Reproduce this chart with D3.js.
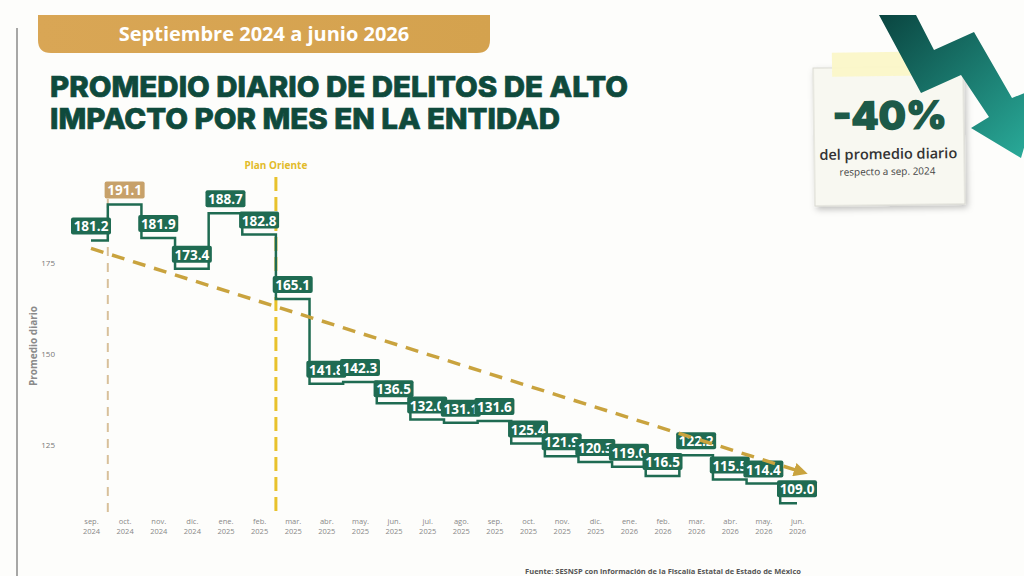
<!DOCTYPE html>
<html>
<head>
<meta charset="utf-8">
<script src="https://cdn.jsdelivr.net/npm/d3@7"></script>
<style>
  html, body { margin: 0; padding: 0; background: #fdfdfb; }
  svg { display: block; }
</style>
</head>
<body>
<svg id="chart"></svg>
<script>
// months shown on the x axis (two-line labels)
var months = ["sep.", "oct.", "nov.", "dic.", "ene.", "feb.", "mar.", "abr.", "may.", "jun.", "jul.", "ago.",
              "sep.", "oct.", "nov.", "dic.", "ene.", "feb.", "mar.", "abr.", "may.", "jun."];
var years = ["2024", "2024", "2024", "2024", "2025", "2025", "2025", "2025", "2025", "2025", "2025", "2025",
             "2025", "2025", "2025", "2025", "2026", "2026", "2026", "2026", "2026", "2026"];

// promedio diario de delitos de alto impacto
var values = [181.2, 191.1, 181.9, 173.4, 188.7, 182.8, 165.1, 141.8, 142.3, 136.5, 132.0, 131.1,
              131.6, 125.4, 121.9, 120.3, 119.0, 116.5, 122.2, 115.5, 114.4, 109.0];

// trend line end points (sep 2024 -> jun 2026)
var trendValues = [179.0, 118.0];

var yTicks = [125, 150, 175];

var width = 1024,
  height = 576;

var svg = d3.select("#chart")
  .attr("width", width)
  .attr("height", height);

var defs = svg.append("defs");

var grad = defs.append("linearGradient")
  .attr("id", "arrowGrad")
  .attr("x1", "0").attr("y1", "0")
  .attr("x2", "1").attr("y2", "1");
grad.append("stop").attr("offset", "0").attr("stop-color", "#0a4540");
grad.append("stop").attr("offset", "1").attr("stop-color", "#2bb09e");

var hdrGrad = defs.append("linearGradient")
  .attr("id", "hdrGrad")
  .attr("x1", "0").attr("y1", "0")
  .attr("x2", "1").attr("y2", "0");
hdrGrad.append("stop").attr("offset", "0").attr("stop-color", "#d9a655");
hdrGrad.append("stop").attr("offset", "1").attr("stop-color", "#d4a24e");

defs.append("marker")
  .attr("id", "trendHead")
  .attr("viewBox", "0 0 10 10")
  .attr("refX", "2")
  .attr("refY", "5")
  .attr("markerWidth", "4")
  .attr("markerHeight", "4")
  .attr("markerUnits", "strokeWidth")
  .attr("orient", "auto")
  .append("path")
  .attr("d", "M0,0 L10,5 L0,10 z")
  .attr("fill", "#c9a33e");

var shadow = defs.append("filter")
  .attr("id", "shadow")
  .attr("x", "-20%").attr("y", "-20%")
  .attr("width", "140%").attr("height", "140%");
shadow.append("feDropShadow")
  .attr("dx", "2").attr("dy", "3")
  .attr("stdDeviation", "3")
  .attr("flood-color", "#000")
  .attr("flood-opacity", "0.25");

// page border on the left
svg.append("path")
  .attr("d", "M17,28 L17,576")
  .attr("stroke", "#8a8a8a")
  .attr("stroke-width", "1.5");

// header band
svg.append("path")
  .attr("d", "M38,15 L490,15 L490,40 Q490,53 477,53 L51,53 Q38,53 38,40 Z")
  .attr("fill", "url(#hdrGrad)");
svg.append("text")
  .attr("x", 264)
  .attr("y", 41)
  .attr("text-anchor", "middle")
  .attr("font-family", "'Open Sans', 'Noto Sans', sans-serif")
  .attr("font-weight", "700")
  .attr("font-size", "20px")
  .attr("fill", "#fff")
  .text("Septiembre 2024 a junio 2026");

// title
var title = svg.append("g")
  .attr("font-family", "Inter, 'Noto Sans', sans-serif")
  .attr("font-weight", "800")
  .attr("font-size", "29px")
  .attr("fill", "#0f4a3c")
  .attr("stroke", "#0f4a3c")
  .attr("stroke-width", 0.7);
title.append("text")
  .attr("x", 50).attr("y", 97)
  .attr("textLength", 578)
  .attr("lengthAdjust", "spacingAndGlyphs")
  .text("PROMEDIO DIARIO DE DELITOS DE ALTO");
title.append("text")
  .attr("x", 50).attr("y", 129)
  .attr("textLength", 510)
  .attr("lengthAdjust", "spacingAndGlyphs")
  .text("IMPACTO POR MES EN LA ENTIDAD");

// scales
var x = d3.scalePoint()
  .domain(d3.range(values.length))
  .range([91, 797]);

var y = d3.scaleLinear()
  .domain([125, 175])
  .range([445, 263]);

var step = x.step();

// y axis
var yAxis = svg.append("g")
  .attr("transform", "translate(55,0)")
  .call(d3.axisLeft(y).tickValues(yTicks).tickSize(0).tickPadding(0));
yAxis.select(".domain").remove();
yAxis.selectAll("text")
  .attr("font-family", "'Open Sans', sans-serif")
  .attr("font-size", "8px")
  .attr("fill", "#777");

svg.append("text")
  .attr("transform", "translate(37,346) rotate(-90)")
  .attr("text-anchor", "middle")
  .attr("font-family", "'Open Sans', sans-serif")
  .attr("font-weight", "700")
  .attr("font-size", "10px")
  .attr("fill", "#8a8a8a")
  .text("Promedio diario");

// x axis labels
var xAxis = svg.append("g")
  .attr("transform", "translate(0,516)")
  .call(d3.axisBottom(x).tickSize(0).tickFormat(function() { return ""; }));
xAxis.select(".domain").remove();
xAxis.selectAll(".tick text").each(function(d) {
  var t = d3.select(this)
    .attr("font-family", "'Open Sans', sans-serif")
    .attr("font-size", "7.5px")
    .attr("fill", "#888")
    .attr("y", 8);
  t.append("tspan").attr("x", 0).attr("dy", 0).text(months[d]);
  t.append("tspan").attr("x", 0).attr("dy", 10).text(years[d]);
});

// reference lines: start of period and Plan Oriente
var xStart = x(0) + step / 2;
var xPlan = x(5) + step / 2;

svg.append("line")
  .attr("x1", xStart).attr("x2", xStart)
  .attr("y1", 183).attr("y2", 515)
  .attr("stroke", "#d8c09a")
  .attr("stroke-width", 2)
  .attr("stroke-dasharray", "9,7");

svg.append("line")
  .attr("x1", xPlan).attr("x2", xPlan)
  .attr("y1", 177).attr("y2", 515)
  .attr("stroke", "#e8c22c")
  .attr("stroke-width", 3)
  .attr("stroke-dasharray", "14,6");

svg.append("text")
  .attr("x", xPlan)
  .attr("y", 169)
  .attr("text-anchor", "middle")
  .attr("font-family", "'Open Sans', sans-serif")
  .attr("font-weight", "700")
  .attr("font-size", "10px")
  .attr("fill", "#e2bb2a")
  .text("Plan Oriente");

// step line
var line = d3.line()
  .x(function(d, i) { return x(i); })
  .y(function(d) { return y(d); })
  .curve(d3.curveStep);

svg.append("path")
  .datum(values)
  .attr("d", line)
  .attr("fill", "none")
  .attr("stroke", "#1f6b52")
  .attr("stroke-width", 2.5);

// value labels
var labels = svg.selectAll(".lbl")
  .data(values)
  .enter().append("g")
  .attr("class", "lbl")
  .attr("transform", function(d, i) { return "translate(" + x(i) + "," + (y(d) - 6) + ")"; });

labels.append("rect")
  .attr("x", -20)
  .attr("y", -17)
  .attr("width", 40)
  .attr("height", 17)
  .attr("rx", 2)
  .attr("fill", function(d, i) { return i === 1 ? "#c7a16a" : "#1f6b52"; });

labels.append("text")
  .attr("y", -3)
  .attr("text-anchor", "middle")
  .attr("font-family", "'Open Sans', 'Noto Sans', sans-serif")
  .attr("font-weight", "700")
  .attr("font-size", "13.5px")
  .attr("fill", "#fff")
  .text(function(d) { return d.toFixed(1); });

// trend line
svg.append("line")
  .attr("x1", x(0)).attr("y1", y(trendValues[0]))
  .attr("x2", x(values.length - 1)).attr("y2", y(trendValues[1]))
  .attr("stroke", "#c9a33e")
  .attr("stroke-width", 3.5)
  .attr("stroke-dasharray", "13,9")
  .attr("marker-end", "url(#trendHead)");

// note card top right
var card = svg.append("g")
  .attr("transform", "rotate(-0.8, 890, 135)");
card.append("rect")
  .attr("x", 814).attr("y", 67)
  .attr("width", 150).attr("height", 138)
  .attr("fill", "#f8f8f1")
  .attr("stroke", "#d8d8d0")
  .attr("stroke-width", 1)
  .attr("filter", "url(#shadow)");
card.append("rect")
  .attr("x", 833).attr("y", 52)
  .attr("width", 92).attr("height", 24)
  .attr("fill", "#fbf7c8")
  .attr("opacity", 0.95);
card.append("text")
  .attr("x", 890).attr("y", 129)
  .attr("text-anchor", "middle")
  .attr("font-family", "Inter, 'Noto Sans', sans-serif")
  .attr("font-weight", "800")
  .attr("font-size", "38px")
  .attr("fill", "#1d5a48")
  .attr("stroke", "#1d5a48")
  .attr("stroke-width", 1.6)
  .attr("textLength", 114)
  .attr("lengthAdjust", "spacingAndGlyphs")
  .text("-40%");
card.append("text")
  .attr("x", 888).attr("y", 159)
  .attr("text-anchor", "middle")
  .attr("font-family", "'Open Sans', sans-serif")
  .attr("font-weight", "600")
  .attr("font-size", "14.5px")
  .attr("fill", "#333")
  .text("del promedio diario");
card.append("text")
  .attr("x", 887).attr("y", 175)
  .attr("text-anchor", "middle")
  .attr("font-family", "'Open Sans', sans-serif")
  .attr("font-size", "10px")
  .attr("fill", "#444")
  .text("respecto a sep. 2024");

// zig-zag arrow
svg.append("path")
  .attr("d", "M879,15 L916,15 L934,50 L974,32 L1012,98 L1042,86 L1021,158 L971,128 L989,117 L961,75 L921,93 Z")
  .attr("fill", "url(#arrowGrad)");

// source
svg.append("text")
  .attr("x", 663)
  .attr("y", 574)
  .attr("text-anchor", "middle")
  .attr("font-family", "'Open Sans', sans-serif")
  .attr("font-weight", "700")
  .attr("font-size", "7.5px")
  .attr("fill", "#555")
  .text("Fuente: SESNSP con información de la Fiscalía Estatal de Estado de México");
</script>
</body>
</html>
